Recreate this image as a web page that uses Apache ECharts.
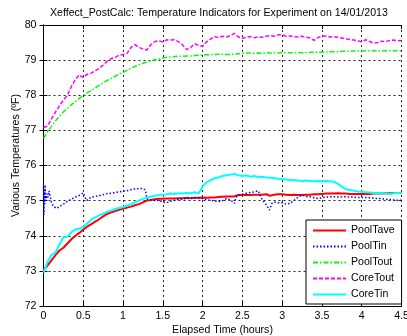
<!DOCTYPE html>
<html>
<head>
<meta charset="utf-8">
<script src="https://cdn.jsdelivr.net/npm/echarts@6/dist/echarts.min.js"></script>
<style>html,body{margin:0;padding:0;background:#fff;}#c{width:407px;height:336px;}</style>
</head>
<body>
<div id="c"></div>
<script>
var seriesNames = ['PoolTave','PoolTin','PoolTout','CoreTout','CoreTin'];
var xTicks = [0,0.5,1,1.5,2,2.5,3,3.5,4,4.5];
var yTicks = [72,73,74,75,76,77,78,79,80];

var time = [0,0.05,0.1,0.15,0.2,0.25,0.3,0.35,0.4,0.45,0.5,0.55,0.6,0.65,0.7,0.75,0.8,0.85,0.9,0.95,
1,1.05,1.1,1.15,1.2,1.25,1.3,1.35,1.4,1.45,1.5,1.55,1.6,1.65,1.7,1.75,1.8,1.85,1.9,1.95,
2,2.05,2.1,2.15,2.2,2.25,2.3,2.35,2.4,2.45,2.5,2.55,2.6,2.65,2.7,2.75,2.8,2.85,2.9,2.95,
3,3.05,3.1,3.15,3.2,3.25,3.3,3.35,3.4,3.45,3.5,3.55,3.6,3.65,3.7,3.75,3.8,3.85,3.9,3.95,
4,4.05,4.1,4.15,4.2,4.25,4.3,4.35,4.4,4.45,4.5];

var poolTave = [73.02,73.15,73.30,73.45,73.58,73.66,73.78,73.90,74.00,74.08,74.18,74.26,74.33,74.40,74.47,74.55,74.62,74.67,74.70,74.74,
74.77,74.80,74.83,74.87,74.90,74.95,75.00,75.02,75.04,75.05,75.05,75.06,75.06,75.06,75.07,75.07,75.08,75.07,75.08,75.08,
75.09,75.08,75.09,75.09,75.10,75.11,75.12,75.12,75.12,75.16,75.16,75.16,75.16,75.17,75.17,75.17,75.18,75.14,75.17,75.18,
75.18,75.17,75.16,75.17,75.16,75.16,75.17,75.17,75.18,75.18,75.19,75.20,75.20,75.20,75.21,75.20,75.20,75.19,75.19,75.19,
75.19,75.19,75.19,75.20,75.20,75.20,75.21,75.21,75.22,75.22,75.22];

var poolTout = [76.77,76.95,77.12,77.27,77.40,77.53,77.63,77.73,77.82,77.91,78.00,78.07,78.14,78.21,78.28,78.35,78.42,78.48,78.54,78.60,
78.65,78.71,78.77,78.82,78.87,78.91,78.95,78.98,79.01,79.03,79.06,79.08,79.09,79.10,79.11,79.11,79.12,79.12,79.13,79.14,
79.15,79.15,79.16,79.16,79.17,79.17,79.16,79.16,79.17,79.18,79.19,79.20,79.20,79.19,79.20,79.19,79.21,79.20,79.21,79.20,
79.21,79.21,79.21,79.21,79.22,79.21,79.22,79.22,79.23,79.22,79.23,79.23,79.24,79.24,79.24,79.25,79.25,79.25,79.26,79.26,
79.26,79.27,79.27,79.27,79.26,79.27,79.27,79.27,79.27,79.27,79.27];

var coreTout = [77.08,77.12,77.32,77.52,77.70,77.86,78.00,78.25,78.45,78.58,78.50,78.60,78.63,78.70,78.76,78.86,78.97,79.04,79.08,79.14,
79.16,79.19,79.36,79.44,79.36,79.32,79.29,79.44,79.53,79.55,79.52,79.58,79.57,79.58,79.52,79.43,79.30,79.36,79.47,79.42,
79.39,79.52,79.60,79.67,79.64,79.68,79.66,79.70,79.76,79.66,79.62,79.65,79.67,79.64,79.66,79.65,79.68,79.70,79.68,79.72,
79.72,79.68,79.69,79.67,79.66,79.68,79.65,79.63,79.56,79.64,79.68,79.69,79.66,79.67,79.65,79.63,79.61,79.59,79.57,79.55,
79.52,79.58,79.53,79.48,79.50,79.54,79.53,79.56,79.57,79.55,79.56];

var coreTin = [72.95,73.25,73.45,73.52,73.75,73.95,73.98,74.10,74.18,74.20,74.25,74.35,74.46,74.52,74.58,74.63,74.68,74.72,74.76,74.79,
74.82,74.86,74.90,74.95,75.00,75.05,75.08,75.11,75.14,75.16,75.17,75.18,75.20,75.19,75.21,75.20,75.22,75.21,75.24,75.20,
75.40,75.52,75.58,75.64,75.66,75.70,75.72,75.74,75.76,75.72,75.70,75.72,75.68,75.70,75.67,75.68,75.66,75.65,75.64,75.62,
75.61,75.60,75.59,75.58,75.57,75.56,75.57,75.56,75.55,75.56,75.55,75.56,75.55,75.54,75.48,75.40,75.33,75.30,75.28,75.26,
75.25,75.24,75.23,75.22,75.20,75.21,75.20,75.19,75.21,75.22,75.22];

var poolTinTime = [0,0.005,0.01,0.015,0.02,0.025,0.03,0.04,0.05,0.06,0.07,0.08,0.09,0.1,0.12,0.14,0.16,0.18,0.2,0.25,
0.3,0.35,0.4,0.45,0.5,0.52,0.54,0.56,0.6,0.65,0.7,0.75,0.8,0.85,0.9,0.95,1,1.05,1.1,1.15,1.2,1.25,1.28,1.3,1.35,1.4,1.45,
1.5,1.55,1.6,1.65,1.7,1.75,1.8,1.85,1.9,1.95,2,2.05,2.1,2.15,2.2,2.25,2.3,2.35,2.4,2.42,2.45,2.5,2.55,2.6,2.65,2.7,2.73,2.76,
2.8,2.84,2.87,2.9,2.95,3,3.05,3.1,3.15,3.2,3.25,3.3,3.35,3.4,3.45,3.5,3.55,3.6,3.65,3.7,3.75,3.8,3.85,3.9,3.95,
4,4.05,4.1,4.15,4.2,4.25,4.3,4.35,4.4,4.45,4.5];
var poolTin = [75.40,74.60,75.30,74.90,75.45,75.00,75.20,75.05,75.20,75.10,75.28,75.15,75.05,74.95,74.85,74.80,74.78,74.82,74.82,74.90,
74.98,75.04,75.10,75.15,75.22,75.24,75.00,75.02,75.10,75.12,75.14,75.17,75.20,75.21,75.23,75.25,75.27,75.28,75.31,75.33,75.34,75.35,75.30,75.05,75.02,75.00,75.01,
74.96,74.94,74.98,75.01,75.03,75.05,75.06,75.07,75.08,75.07,75.06,75.03,75.01,74.99,74.97,75.00,75.06,75.02,74.92,75.10,75.16,75.18,75.21,75.23,75.25,75.28,75.10,75.00,
74.88,74.73,74.92,74.96,74.94,74.94,74.90,74.92,75.01,75.10,75.16,75.12,75.11,75.08,75.06,75.08,75.10,75.11,75.11,75.10,75.11,75.11,75.10,75.10,75.09,
75.09,75.09,75.08,75.07,75.06,75.06,75.04,75.03,75.02,75.01,75.01];

function pairs(xs, ys){ var out=[]; for(var i=0;i<ys.length;i++) out.push([xs[i], ys[i]]); return out; }

var FONT = 'Liberation Sans';
var FS = 10.6;
var chart = echarts.init(document.getElementById('c'), null, {renderer:'canvas'});
var axisLine = {show:true, lineStyle:{color:'#000', width:1}};
var tick = {show:true, inside:true, length:4, lineStyle:{color:'#000'}};
var split = {show:true, lineStyle:{color:'#000', type:[2,3], width:1, opacity:0.85}};

chart.setOption({
  backgroundColor:'#fff',
  animation:false,
  title:{text:'Xeffect_PostCalc: Temperature Indicators for Experiment on 14/01/2013',
    left:50, top:8, padding:0,
    textStyle:{fontFamily:FONT, fontSize:FS, fontWeight:'normal', color:'#000'}},
  grid:{left:43.5, right:5.5, top:25, bottom:30, containLabel:false, outerBoundsMode:'none'},
  legend:{
    data:seriesNames, orient:'vertical', left:306, top:220,
    itemWidth:33, itemHeight:10, itemGap:3,
    backgroundColor:'#fff', borderColor:'#000', borderWidth:1, borderRadius:0,
    padding:[4,7,3,6], selectedMode:false,
    itemStyle:{opacity:0},
    textStyle:{fontFamily:FONT, fontSize:FS, color:'#000', lineHeight:13}
  },
  xAxis:[
    {type:'value', min:xTicks[0], max:xTicks[xTicks.length-1], interval:0.5, position:'bottom',
     name:'Elapsed Time (hours)', nameLocation:'middle', nameGap:19, nameMoveOverlap:false,
     nameTextStyle:{fontFamily:FONT, fontSize:FS, color:'#000'},
     axisLine:axisLine, axisTick:tick, splitLine:split,
     axisLabel:{fontFamily:FONT, fontSize:FS, color:'#000', margin:5, showMaxLabel:true, showMinLabel:true}},
    {type:'value', min:xTicks[0], max:xTicks[xTicks.length-1], interval:0.5, position:'top',
     axisLine:axisLine, axisTick:tick, splitLine:{show:false}, axisLabel:{show:false}}
  ],
  yAxis:[
    {type:'value', min:yTicks[0], max:yTicks[yTicks.length-1], interval:1, position:'left',
     name:'Various Temperatures (ºF)', nameLocation:'middle', nameGap:22, nameMoveOverlap:false,
     nameTextStyle:{fontFamily:FONT, fontSize:FS, color:'#000', padding:[0,0,0,20]},
     axisLine:axisLine, axisTick:tick, splitLine:split,
     axisLabel:{fontFamily:FONT, fontSize:FS, color:'#000', margin:7}},
    {type:'value', min:yTicks[0], max:yTicks[yTicks.length-1], interval:1, position:'right',
     axisLine:axisLine, axisTick:tick, splitLine:{show:false}, axisLabel:{show:false}}
  ],
  series:[
    {name:'PoolTave', type:'line', data:pairs(time,poolTave), showSymbol:false, symbol:'none',
     lineStyle:{color:'#ff0000', width:2}, itemStyle:{color:'#ff0000'}},
    {name:'PoolTin', type:'line', data:pairs(poolTinTime,poolTin), showSymbol:false, symbol:'none',
     lineStyle:{color:'#0000ff', width:1.5, type:[1.5,2]}, itemStyle:{color:'#0000ff'}},
    {name:'PoolTout', type:'line', data:pairs(time,poolTout), showSymbol:false, symbol:'none',
     lineStyle:{color:'#00ff00', width:1.5, type:[5,2,1.5,2]}, itemStyle:{color:'#00ff00'}},
    {name:'CoreTout', type:'line', data:pairs(time,coreTout), showSymbol:false, symbol:'none',
     lineStyle:{color:'#ff00ff', width:1.5, type:[4,2]}, itemStyle:{color:'#ff00ff'}},
    {name:'CoreTin', type:'line', data:pairs(time,coreTin), showSymbol:false, symbol:'none',
     lineStyle:{color:'#00ffff', width:2}, itemStyle:{color:'#00ffff'}}
  ]
});
</script>
</body>
</html>
